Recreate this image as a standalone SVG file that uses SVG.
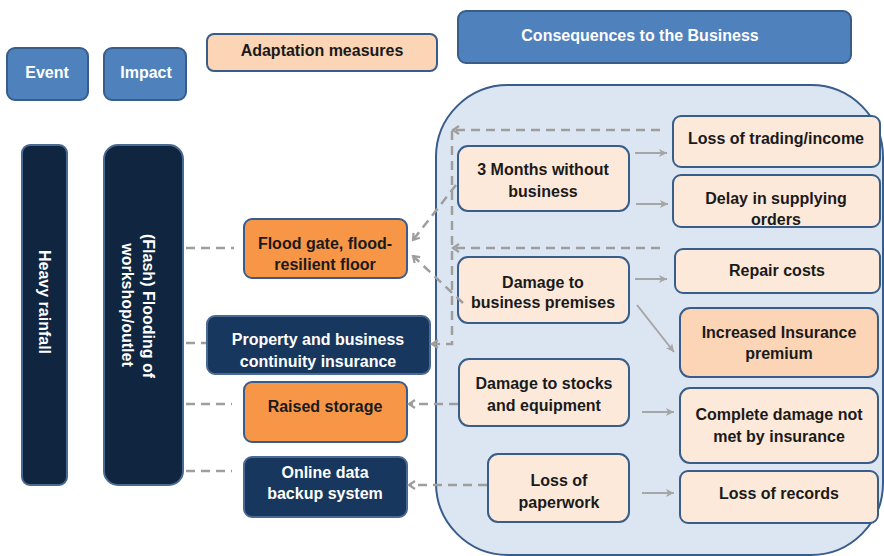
<svg xmlns="http://www.w3.org/2000/svg" width="884" height="556" viewBox="0 0 884 556">
<defs>
<style>
text{font-family:"Liberation Sans",Arial,sans-serif;font-weight:bold;font-size:16px;text-anchor:middle;dominant-baseline:central}
.w{fill:#ffffff}
.k{fill:#1a1a1a}
.hdr{fill:#4F81BD;stroke:#385D8A;stroke-width:2}
.peach{fill:#FDE9D9;stroke:#385D8A;stroke-width:2}
.peach2{fill:#FBD5B5;stroke:#385D8A;stroke-width:2}
.orange{fill:#F79646;stroke:#385D8A;stroke-width:2}
.navy{fill:#17375E;stroke:#4A6A94;stroke-width:2}
.dark{fill:#10253F;stroke:#4A6A94;stroke-width:2}
.dash{fill:none;stroke:#9E9E9E;stroke-width:2.5;stroke-dasharray:9,6}
.sol{fill:none;stroke:#A6A6A6;stroke-width:2}
</style>
<marker id="ad" markerWidth="10" markerHeight="10" refX="7" refY="5" orient="auto" markerUnits="userSpaceOnUse">
<polyline points="1,1 7,5 1,9" fill="none" stroke="#9E9E9E" stroke-width="2.2"/>
</marker>
<marker id="as" markerWidth="10" markerHeight="10" refX="8" refY="5" orient="auto" markerUnits="userSpaceOnUse">
<polygon points="0,1 8,5 0,9 2,5" fill="#A6A6A6"/>
</marker>
</defs>
<rect x="0" y="0" width="884" height="556" fill="#ffffff"/>

<g id="container">
<rect x="436" y="85" width="447" height="470" rx="72" ry="72" fill="#DCE6F2" stroke="#385D8A" stroke-width="2"/>
</g>

<g id="hdr-event"><rect class="hdr" x="7" y="48" width="81" height="52" rx="8"/><text class="w" x="47" y="72">Event</text></g>
<g id="hdr-impact"><rect class="hdr" x="104" y="48" width="82" height="52" rx="8"/><text class="w" x="146" y="72">Impact</text></g>
<g id="hdr-adapt"><rect class="peach2" x="207" y="34" width="230" height="37" rx="7"/><text class="k" x="322" y="50">Adaptation measures</text></g>
<g id="hdr-cons"><rect class="hdr" x="458" y="11" width="393" height="52" rx="8"/><text class="w" x="640" y="35">Consequences to the Business</text></g>

<g id="event"><rect class="dark" x="22" y="145" width="45" height="340" rx="8"/><text class="w" transform="translate(44,302) rotate(90)">Heavy rainfall</text></g>
<g id="impact"><rect class="dark" x="104" y="145" width="79" height="340" rx="14"/>
<text class="w" transform="translate(148,306) rotate(90)">(Flash) Flooding of</text>
<text class="w" transform="translate(127,305) rotate(90)">workshop/outlet</text></g>

<g id="floodgate"><rect class="orange" x="244" y="219" width="163" height="59" rx="8"/><text class="k" x="325" y="243">Flood gate, flood-</text><text class="k" x="325" y="264">resilient floor</text></g>
<g id="insurance"><rect class="navy" x="207" y="316" width="223" height="58" rx="8"/><text class="w" x="318" y="339">Property and business</text><text class="w" x="318" y="361">continuity insurance</text></g>
<g id="raised"><rect class="orange" x="244" y="382" width="163" height="60" rx="8"/><text class="k" x="325" y="406">Raised storage</text></g>
<g id="backup"><rect class="navy" x="244" y="457" width="163" height="60" rx="8"/><text class="w" x="325" y="472">Online data</text><text class="w" x="325" y="493">backup system</text></g>

<g id="months"><rect class="peach" x="458" y="146" width="171" height="65" rx="10"/><text class="k" x="543" y="169">3 Months without</text><text class="k" x="543" y="191">business</text></g>
<g id="premises"><rect class="peach" x="458" y="257" width="171" height="66" rx="10"/><text class="k" x="543" y="282">Damage to</text><text class="k" x="543" y="302">business premises</text></g>
<g id="stocks"><rect class="peach" x="459" y="359" width="170" height="67" rx="10"/><text class="k" x="544" y="383">Damage to stocks</text><text class="k" x="544" y="405">and equipment</text></g>
<g id="paperwork"><rect class="peach" x="488" y="454" width="141" height="68" rx="10"/><text class="k" x="559" y="480">Loss of</text><text class="k" x="559" y="502">paperwork</text></g>

<g id="trading"><rect class="peach" x="673" y="116" width="207" height="51" rx="8"/><text class="k" x="776" y="138">Loss of trading/income</text></g>
<g id="delay"><rect class="peach" x="673" y="175" width="207" height="52" rx="8"/><text class="k" x="776" y="198">Delay in supplying</text><text class="k" x="776" y="219">orders</text></g>
<g id="repair"><rect class="peach" x="675" y="249" width="205" height="44" rx="8"/><text class="k" x="777" y="270">Repair costs</text></g>
<g id="premium"><rect class="peach2" x="680" y="308" width="198" height="69" rx="10"/><text class="k" x="779" y="332">Increased Insurance</text><text class="k" x="779" y="353">premium</text></g>
<g id="complete"><rect class="peach" x="680" y="388" width="198" height="75" rx="10"/><text class="k" x="779" y="414">Complete damage not</text><text class="k" x="779" y="436">met by insurance</text></g>
<g id="records"><rect class="peach" x="680" y="471" width="198" height="52" rx="8"/><text class="k" x="779" y="493">Loss of records</text></g>

<g id="connectors">
<line class="dash" x1="186" y1="248" x2="234" y2="248"/>
<line class="dash" x1="186" y1="343" x2="206" y2="343"/>
<line class="dash" x1="186" y1="404" x2="232" y2="404"/>
<line class="dash" x1="186" y1="471" x2="232" y2="471"/>

<line class="dash" x1="660" y1="130" x2="453" y2="130" marker-end="url(#ad)"/>
<line class="dash" x1="660" y1="248" x2="453" y2="248" marker-end="url(#ad)"/>
<polyline class="dash" points="452,131 452,344 432,344" marker-end="url(#ad)"/>

<line class="dash" x1="456" y1="185" x2="413" y2="240" marker-end="url(#ad)"/>
<line class="dash" x1="463" y1="303" x2="413" y2="256" marker-end="url(#ad)"/>
<line class="dash" x1="458" y1="404" x2="409" y2="404" marker-end="url(#ad)"/>
<line class="dash" x1="487" y1="485" x2="409" y2="485" marker-end="url(#ad)"/>

<line class="sol" x1="635" y1="153" x2="667" y2="153" marker-end="url(#as)"/>
<line class="sol" x1="636" y1="204" x2="668" y2="204" marker-end="url(#as)"/>
<line class="sol" x1="635" y1="279" x2="667" y2="279" marker-end="url(#as)"/>
<line class="sol" x1="637" y1="305" x2="674" y2="352" marker-end="url(#as)"/>
<line class="sol" x1="642" y1="412" x2="674" y2="412" marker-end="url(#as)"/>
<line class="sol" x1="642" y1="493" x2="674" y2="493" marker-end="url(#as)"/>
</g>
</svg>
